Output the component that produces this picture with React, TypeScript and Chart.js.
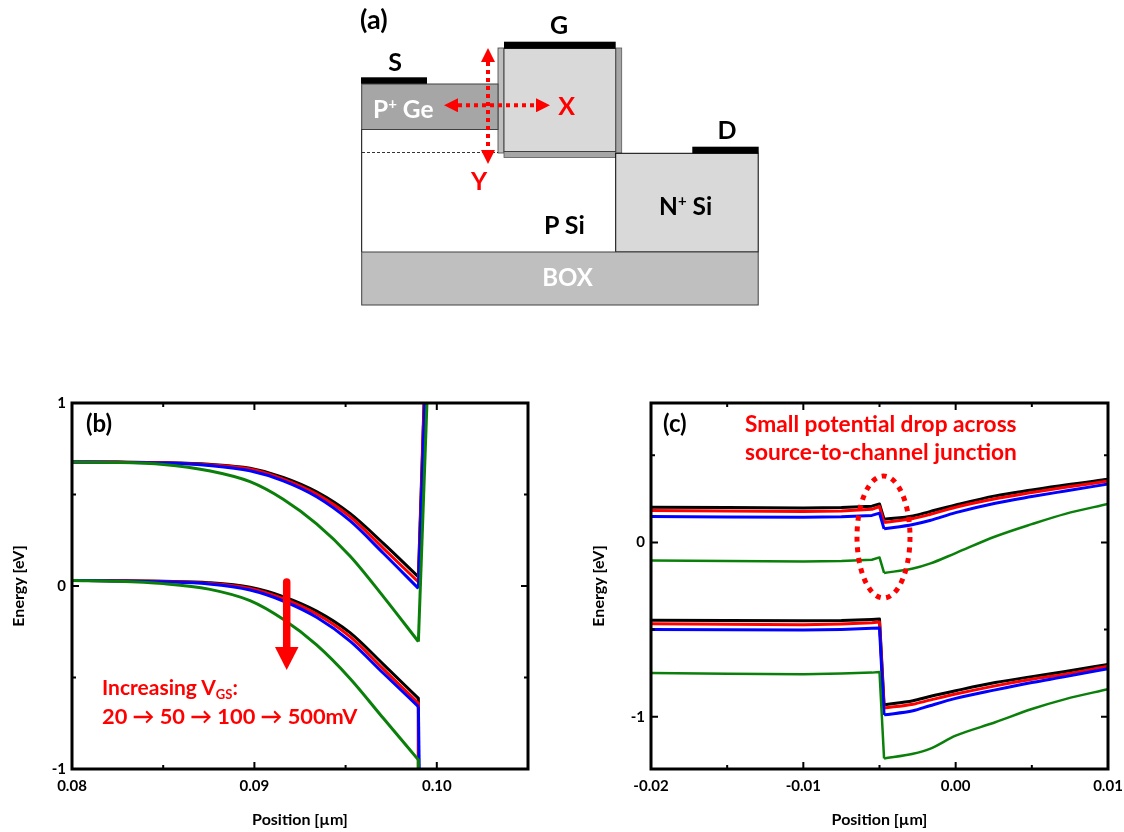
import React, { useEffect, useRef } from "react";
import { Chart, registerables } from "chart.js";

Chart.register(...registerables);

const FONT = "Lato";
const BLACK = "#000000";
const RED = "#ff0000";
const BLUE = "#0000ff";
const GREEN = "#0a800a";

// ---- panel (b) ----
const bX = [0.08, 0.0825, 0.085, 0.0875, 0.08976, 0.09158, 0.09341, 0.09524, 0.09707, 0.09899];
const bUpperBlack = [0.678, 0.677, 0.674, 0.665, 0.643, 0.594, 0.515, 0.397, 0.233, 0.05];
const bUpperRed = [0.678, 0.677, 0.674, 0.663, 0.639, 0.584, 0.502, 0.379, 0.206, 0.022];
const bUpperBlue = [0.678, 0.676, 0.672, 0.659, 0.63, 0.575, 0.488, 0.357, 0.179, -0.013];
const bUpperGreen = [0.677, 0.675, 0.664, 0.63, 0.57, 0.474, 0.339, 0.164, -0.058, -0.304];
const bLowerBlack = [0.03, 0.029, 0.026, 0.018, -0.007, -0.058, -0.137, -0.255, -0.428, -0.614];
const bLowerRed = [0.03, 0.029, 0.025, 0.015, -0.013, -0.069, -0.153, -0.277, -0.454, -0.641];
const bLowerBlue = [0.03, 0.028, 0.023, 0.011, -0.022, -0.082, -0.171, -0.301, -0.477, -0.659];
const bLowerGreen = [0.03, 0.026, 0.013, -0.017, -0.08, -0.182, -0.322, -0.505, -0.723, -0.95];
const bUpperTopX = [0.0993, 0.09931, 0.09934, 0.09946];
const bLowerBottomX = [0.09899, 0.09899, 0.09904, 0.09899];
const bTopEnergy = 1;
const bBottomEnergy = -1.02;
const bXTicks = [0.08, 0.085, 0.09, 0.095, 0.1, 0.105];
const bXLabels = ["0.08", "", "0.09", "", "0.10", ""];
const bYTicks = [-1, -0.5, 0, 0.5, 1];
const bYLabels = ["-1", "", "0", "", "1"];

// ---- panel (c) ----
const cLeftX = [-0.02, -0.015, -0.01, -0.0075, -0.0055, -0.005];
const cRightX = [-0.0047, -0.0028, -0.0017, 0, 0.0026, 0.005, 0.0072, 0.01];
const cUpperBlackL = [0.202, 0.2, 0.198, 0.2, 0.208, 0.221];
const cUpperRedL = [0.183, 0.18, 0.178, 0.18, 0.19, 0.206];
const cUpperBlueL = [0.149, 0.146, 0.144, 0.147, 0.155, 0.168];
const cUpperGreenL = [-0.103, -0.107, -0.11, -0.107, -0.099, -0.086];
const cUpperBlackR = [0.133, 0.152, 0.177, 0.215, 0.267, 0.301, 0.33, 0.362];
const cUpperRedR = [0.114, 0.137, 0.16, 0.202, 0.251, 0.286, 0.316, 0.352];
const cUpperBlueR = [0.078, 0.103, 0.126, 0.171, 0.225, 0.263, 0.295, 0.335];
const cUpperGreenR = [-0.175, -0.15, -0.122, -0.061, 0.034, 0.105, 0.164, 0.221];
const cLowerBlackL = [-0.446, -0.448, -0.45, -0.448, -0.442, -0.44];
const cLowerRedL = [-0.467, -0.47, -0.472, -0.468, -0.461, -0.457];
const cLowerBlueL = [-0.499, -0.501, -0.503, -0.499, -0.493, -0.491];
const cLowerGreenL = [-0.749, -0.753, -0.756, -0.752, -0.747, -0.743];
const cLowerBlackR = [-0.931, -0.908, -0.884, -0.851, -0.804, -0.77, -0.741, -0.7];
const cLowerRedR = [-0.95, -0.928, -0.905, -0.87, -0.823, -0.785, -0.756, -0.71];
const cLowerBlueR = [-0.989, -0.966, -0.937, -0.895, -0.846, -0.804, -0.77, -0.724];
const cLowerGreenR = [-1.24, -1.213, -1.185, -1.109, -1.032, -0.956, -0.899, -0.842];
const cXTicks = [-0.02, -0.015, -0.01, -0.005, 0, 0.005, 0.01];
const cXLabels = ["-0.02", "", "-0.01", "", "0.00", "", "0.01"];
const cYTicks = [-1, -0.5, 0, 0.5];
const cYLabels = ["-1", "", "0", ""];

const xTitle = "Position [µm]";
const yTitle = "Energy [eV]";

type Pt = { x: number; y: number };

function zip(xs: number[], ys: number[]): Pt[] {
  return xs.map((x, i) => ({ x, y: ys[i] }));
}

function line(data: Pt[], color: string, width: number, smooth: boolean) {
  return {
    data,
    borderColor: color,
    backgroundColor: color,
    borderWidth: width,
    pointRadius: 0,
    fill: false,
    tension: 0,
    cubicInterpolationMode: smooth ? "monotone" : "default",
    borderJoinStyle: "round",
  };
}

const frame = {
  id: "frame",
  afterDraw(chart: any) {
    const { ctx, chartArea: a, scales } = chart;
    ctx.save();
    ctx.strokeStyle = "#000";
    ctx.lineWidth = 2;
    scales.x.ticks.forEach((t: any) => {
      const p = scales.x.getPixelForValue(t.value);
      const len = t.label ? 7 : 4;
      ctx.beginPath();
      ctx.moveTo(p, a.bottom);
      ctx.lineTo(p, a.bottom - len);
      ctx.moveTo(p, a.top);
      ctx.lineTo(p, a.top + len);
      ctx.stroke();
    });
    scales.y.ticks.forEach((t: any) => {
      const p = scales.y.getPixelForValue(t.value);
      const len = t.label ? 7 : 4;
      ctx.beginPath();
      ctx.moveTo(a.left, p);
      ctx.lineTo(a.left + len, p);
      ctx.moveTo(a.right, p);
      ctx.lineTo(a.right - len, p);
      ctx.stroke();
    });
    ctx.lineWidth = 3;
    ctx.strokeRect(a.left, a.top, a.right - a.left, a.bottom - a.top);
    ctx.restore();
  },
};

function axisOptions(
  min: number,
  max: number,
  ticks: number[],
  labels: string[],
  title: string,
  fixedSize: number,
  horizontal: boolean
) {
  return {
    type: "linear",
    min,
    max,
    afterBuildTicks(s: any) {
      s.ticks = ticks.map((value) => ({ value }));
    },
    afterFit(s: any) {
      if (horizontal) {
        s.height = fixedSize;
        s.paddingLeft = 0;
        s.paddingRight = 0;
      } else {
        s.width = fixedSize;
        s.paddingTop = 0;
        s.paddingBottom = 0;
      }
    },
    grid: { display: false, drawTicks: false },
    border: { display: false },
    title: {
      display: true,
      text: title,
      color: "#000",
      font: { family: FONT, weight: "bold", size: 16 },
      padding: horizontal ? { top: 0, bottom: 2.4 } : { top: 9, bottom: 0 },
    },
    ticks: {
      autoSkip: false,
      maxRotation: 0,
      minRotation: 0,
      padding: horizontal ? 8 : 6,
      color: "#000",
      font: { family: FONT, weight: "bold", size: 15 },
      callback(v: number) {
        const i = ticks.findIndex((t) => Math.abs(t - v) < 1e-9);
        return i >= 0 ? labels[i] : "";
      },
    },
  };
}

function usePlot(
  datasets: any[],
  x: any,
  y: any,
  padding: { top: number; right: number }
) {
  const ref = useRef<HTMLCanvasElement | null>(null);
  useEffect(() => {
    const chart = new Chart(ref.current as HTMLCanvasElement, {
      type: "line",
      data: { datasets },
      plugins: [frame],
      options: {
        animation: false,
        responsive: false,
        maintainAspectRatio: false,
        parsing: false,
        normalized: true,
        layout: { autoPadding: false, padding: { left: 0, bottom: 0, ...padding } },
        plugins: { legend: { display: false }, tooltip: { enabled: false }, title: { display: false } },
        scales: { x, y },
      },
    } as any);
    return () => chart.destroy();
  }, []);
  return ref;
}

const COLORS = [BLACK, RED, BLUE, GREEN];

// Chart.js paints the first dataset last, so the lists are reversed to leave
// green on top of blue, blue on top of red and red on top of black.
function buildB() {
  const upper = [bUpperBlack, bUpperRed, bUpperBlue, bUpperGreen];
  const lower = [bLowerBlack, bLowerRed, bLowerBlue, bLowerGreen];
  const out: any[] = [];
  const lastX = bX[bX.length - 1];
  COLORS.forEach((c, i) => {
    const lastU = upper[i][upper[i].length - 1];
    out.push(line(zip(bX, upper[i]), c, 3, true));
    out.push(line([{ x: lastX, y: lastU }, { x: bUpperTopX[i], y: bTopEnergy }], c, 3, false));
  });
  COLORS.forEach((c, i) => {
    const lastL = lower[i][lower[i].length - 1];
    out.push(line(zip(bX, lower[i]), c, 3, true));
    out.push(line([{ x: lastX, y: lastL }, { x: bLowerBottomX[i], y: bBottomEnergy }], c, 3, false));
  });
  return out.reverse();
}

function buildC() {
  const widths = [3, 3, 3, 2.5];
  const upperL = [cUpperBlackL, cUpperRedL, cUpperBlueL, cUpperGreenL];
  const upperR = [cUpperBlackR, cUpperRedR, cUpperBlueR, cUpperGreenR];
  const lowerL = [cLowerBlackL, cLowerRedL, cLowerBlueL, cLowerGreenL];
  const lowerR = [cLowerBlackR, cLowerRedR, cLowerBlueR, cLowerGreenR];
  const out: any[] = [];
  [[upperL, upperR], [lowerL, lowerR]].forEach(([L, R]) => {
    COLORS.forEach((c, i) => {
      out.push(
        line(
          [...zip(cLeftX, L[i]), { x: cRightX[0], y: R[i][0] }],
          c,
          widths[i],
          false
        )
      );
      out.push(line(zip(cRightX, R[i]), c, widths[i], true));
    });
  });
  return out.reverse();
}

function Schematic() {
  const txt = { fontFamily: FONT, fontWeight: 700 } as const;
  return (
    <svg
      width={1124}
      height={832}
      style={{ position: "absolute", left: 0, top: 0, pointerEvents: "none" }}
    >
      <defs>
        <marker id="head" viewBox="0 0 10 10" refX="0" refY="5" markerWidth="14" markerHeight="14" markerUnits="userSpaceOnUse" orient="auto-start-reverse">
          <path d="M0 0L10 5L0 10Z" fill={RED} />
        </marker>
      </defs>
      {/* panel (a) */}
      <rect x={498} y={48} width={6} height={105} fill="#BFBFBF" stroke="#404040" strokeWidth={0.8} />
      <rect x={615.7} y={48} width={6} height={105} fill="#A6A6A6" stroke="#595959" strokeWidth={0.8} />
      <rect x={504} y={151.5} width={111.7} height={6} fill="#A6A6A6" stroke="#595959" strokeWidth={0.8} />
      <rect x={504} y={48.5} width={111.7} height={103} fill="#D9D9D9" stroke="#404040" strokeWidth={1} />
      <rect x={361.7} y={84} width={136.3} height={45.5} fill="#A6A6A6" stroke="#404040" strokeWidth={1} />
      <rect x={615.7} y={153.3} width={142.5} height={98.7} fill="#D9D9D9" stroke="#000" strokeWidth={1} />
      <line x1={361.7} y1={129.5} x2={361.7} y2={252} stroke="#000" strokeWidth={1} />
      <line x1={362} y1={152.5} x2={498} y2={152.5} stroke="#000" strokeWidth={0.8} strokeDasharray="3 2" />
      <rect x={361.7} y={252} width={396.5} height={53} fill="#BFBFBF" stroke="#404040" strokeWidth={1} />
      <rect x={361} y={77.3} width={66} height={6.5} fill="#000" />
      <rect x={504} y={41.7} width={111.7} height={7} fill="#000" />
      <rect x={692.3} y={146.7} width={66.4} height={6.8} fill="#000" />
      <text x={360} y={29} fontSize={27} {...txt}>(a)</text>
      <text x={395} y={71} fontSize={25} textAnchor="middle" {...txt}>S</text>
      <text x={559} y={34} fontSize={25} textAnchor="middle" {...txt}>G</text>
      <text x={727} y={139} fontSize={25} textAnchor="middle" {...txt}>D</text>
      <text x={373} y={118} fontSize={24.5} fill="#fff" {...txt}>P<tspan fontSize={15} dy={-9}>+</tspan><tspan dy={9}> Ge</tspan></text>
      <text x={659} y={215} fontSize={24.5} fill="#000" {...txt}>N<tspan fontSize={15} dy={-9}>+</tspan><tspan dy={9}> Si</tspan></text>
      <text x={544} y={234} fontSize={25} fill="#000" {...txt}>P Si</text>
      <text x={567.5} y={286} fontSize={24} fill="#fff" textAnchor="middle" {...txt}>BOX</text>
      <text x={566.7} y={115} fontSize={25} fill={RED} textAnchor="middle" {...txt}>X</text>
      <text x={479} y={190} fontSize={25} fill={RED} textAnchor="middle" {...txt}>Y</text>
      <line x1={488} y1={62} x2={488} y2={150} stroke={RED} strokeWidth={4} strokeDasharray="4 4" markerStart="url(#head)" markerEnd="url(#head)" />
      <line x1={458} y1={105.3} x2={536} y2={105.3} stroke={RED} strokeWidth={4} strokeDasharray="4 4" markerStart="url(#head)" markerEnd="url(#head)" />

      {/* panel (b) annotations */}
      <text x={86} y={432} fontSize={24} {...txt}>(b)</text>
      <line x1={286.7} y1={582} x2={286.7} y2={650} stroke={RED} strokeWidth={7.5} strokeLinecap="round" />
      <path d="M275 647L298.5 647L286.7 670Z" fill={RED} />
      <text x={102} y={695} fontSize={21} fill={RED} {...txt}>
        Increasing V<tspan fontSize={13} dy={4}>GS</tspan><tspan dy={-4}>:</tspan>
      </text>
      <text x={102} y={724} fontSize={21.8} fill={RED} {...txt}>20 → 50 → 100 → 500mV</text>

      {/* panel (c) annotations */}
      <text x={663} y={432} fontSize={24} {...txt}>(c)</text>
      <text x={745} y={432} fontSize={22.7} fill={RED} {...txt}>Small potential drop across</text>
      <text x={745} y={460} fontSize={22.7} fill={RED} {...txt}>source-to-channel junction</text>
      <ellipse cx={883.5} cy={537} rx={26.5} ry={61} fill="none" stroke={RED} strokeWidth={5} strokeDasharray="5 5.6" />
    </svg>
  );
}

export default function App() {
  const bRef = usePlot(
    buildB(),
    axisOptions(0.08, 0.105, bXTicks, bXLabels, xTitle, 63, true),
    axisOptions(-1, 1, bYTicks, bYLabels, yTitle, 72, false),
    { top: 23, right: 32 }
  );
  const cRef = usePlot(
    buildC(),
    axisOptions(-0.02, 0.01, cXTicks, cXLabels, xTitle, 63, true),
    axisOptions(-1.3, 0.8, cYTicks, cYLabels, yTitle, 71, false),
    { top: 23, right: 16 }
  );
  return (
    <div style={{ position: "absolute", left: 0, top: 0, width: 1124, height: 832, background: "#fff", overflow: "hidden" }}>
      <canvas ref={bRef} width={560} height={452} style={{ position: "absolute", left: 0, top: 380, width: 560, height: 452 }} />
      <canvas ref={cRef} width={544} height={452} style={{ position: "absolute", left: 580, top: 380, width: 544, height: 452 }} />
      <Schematic />
    </div>
  );
}
